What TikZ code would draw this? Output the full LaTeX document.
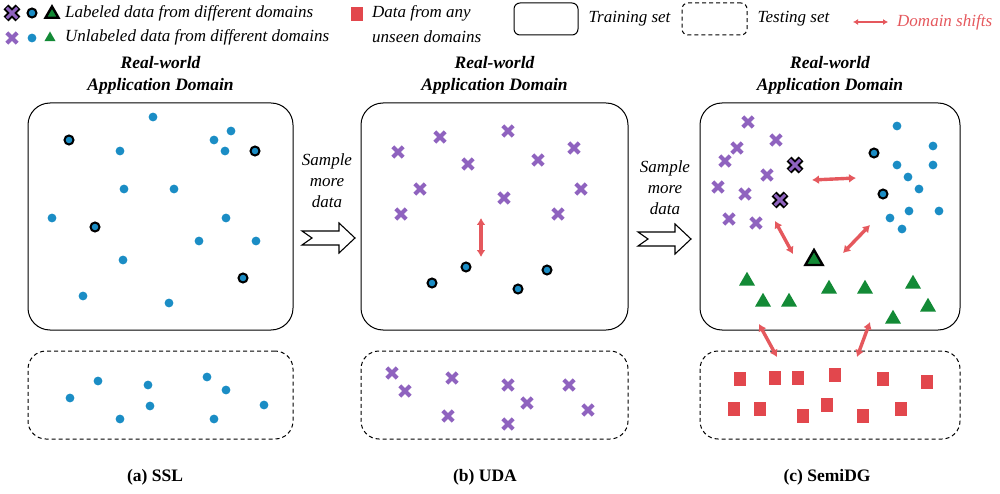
\documentclass[tikz,border=0pt]{standalone}
\usepackage{fontspec}
\setmainfont{Liberation Serif}
\usetikzlibrary{positioning,arrows.meta,shapes.geometric}
\definecolor{dotblue}{HTML}{1B8DC5}
\definecolor{crosspurple}{HTML}{8F63BF}
\definecolor{trigreen}{HTML}{138A36}
\definecolor{sqred}{HTML}{E2474D}
\definecolor{shiftred}{HTML}{E5585D}

\tikzset{
udot/.pic={\fill[dotblue] (0,0) circle (4.4pt);},
ldot/.pic={\draw[line width=2pt, fill=dotblue] (0,0) circle (4.5pt);},
ucross/.pic={\draw[crosspurple, line width=4.2pt] (-5.2,-5.2)--(5.2,5.2) (-5.2,5.2)--(5.2,-5.2);},
lcross/.pic={\draw[black, line width=6.8pt] (-6,-6)--(6,6) (-6,6)--(6,-6);
  \draw[crosspurple, line width=3pt] (-5.2,-5.2)--(5.2,5.2) (-5.2,5.2)--(5.2,-5.2);},
utri/.pic={\node[regular polygon, regular polygon sides=3, fill=trigreen, inner sep=0pt, minimum size=#1] {};},
ltri/.pic={\node[regular polygon, regular polygon sides=3, fill=trigreen, draw=black, line width=2.4pt, inner sep=0pt, minimum size=#1] {};},
usq/.pic={\fill[sqred] (-6.3,-6.8) rectangle (6.3,6.8);},
fatarrow/.pic={\draw[line width=1.1pt, fill=white] (0,-7) -- (37,-7) -- (37,-15) -- (53,0) -- (37,15) -- (37,7) -- (0,7) -- (10,0) -- cycle;}
}

\begin{document}
\begin{tikzpicture}[
x=1pt, y=-1pt,
trainbox/.style={draw, line width=1pt, rounded corners=22pt},
testbox/.style={draw, dashed, dash pattern=on 4pt off 3pt, line width=1pt, rounded corners=18pt},
title/.style={font=\fontsize{17.5}{22}\selectfont\bfseries\itshape, align=center},
caption/.style={font=\fontsize{17.5}{21}\selectfont\bfseries},
legtext/.style={font=\fontsize{17}{21}\selectfont\itshape, inner sep=2pt},
sampletext/.style={font=\fontsize{17}{21}\selectfont\itshape, align=center},
shiftarrow/.style={shiftred, line width=3.4pt, {Latex[length=7pt,width=9pt]}-{Latex[length=7pt,width=9pt]}}
]
\useasboundingbox (0,0) rectangle (1000,494);

% legend
\pic at (12,13) {lcross};
\pic at (32,13) {ldot};
\pic at (52,14) {ltri=15pt};
\node[legtext, anchor=west] (lablab) at (63,13) {Labeled data from different domains};
\pic at (12,38) {ucross};
\pic at (32,38) {udot};
\pic at (50,38) {utri=13pt};
\node[legtext, anchor=west] (unlablab) at (63,37) {Unlabeled data from different domains};
\pic at (357,14) {usq};
\node[legtext, anchor=west] (anylab) at (370,13) {Data from any};
\node[legtext, anchor=west] (unseenlab) at (370,37) {unseen domains};
\node[trainbox, minimum width=64pt, minimum height=32pt, rounded corners=6pt] (legtrain) at (546,19) {};
\node[legtext, right=8pt of legtrain] (trainlab) {Training set};
\node[testbox, minimum width=65pt, minimum height=32pt, rounded corners=6pt] (legtest) at (714.5,19) {};
\node[legtext, right=8pt of legtest] (testlab) {Testing set};
\coordinate (lega) at (853,22);
\coordinate (legb) at (888,22);
\draw[shiftarrow, line width=2pt, {Latex[length=5pt,width=6pt]}-{Latex[length=5pt,width=6pt]}] (lega) -- (legb);
\node[legtext, text=shiftred, anchor=west] (shiftlab) at (895,22) {Domain shifts};

% domains
\node[trainbox, minimum width=265pt, minimum height=227pt] (ssl) at (160.5,216.5) {};
\node[trainbox, minimum width=267pt, minimum height=227pt, right=67pt of ssl] (uda) {};
\node[trainbox, minimum width=260pt, minimum height=227pt, right=71pt of uda] (semi) {};
\node[testbox, minimum width=265pt, minimum height=88pt, below=20pt of ssl] (ssltest) {};
\node[testbox, minimum width=267pt, minimum height=88pt, below=20pt of uda] (udatest) {};
\node[testbox, minimum width=260pt, minimum height=88pt, below=20pt of semi] (semitest) {};

\node[title, above=5pt of ssl] (ssltitle) {Real-world\\Application Domain};
\node[title, above=5pt of uda] (udatitle) {Real-world\\Application Domain};
\node[title, above=5pt of semi] (semititle) {Real-world\\Application Domain};

\node[caption] (sslcap) at (155,477) {(a) SSL};
\node[caption] (udacap) at (485,477) {(b) UDA};
\node[caption] (semicap) at (827,477) {(c) SemiDG};

\node[sampletext] (sample1) at (327,181) {Sample\\more\\data};
\node[sampletext] (sample2) at (665,188) {Sample\\more\\data};
\pic at (302,238) {fatarrow};
\pic at (638,239) {fatarrow};

% (a) SSL
\foreach \p in {(153,117),(120,151),(214,140),(231,131),(225,151),(124,189),(174,189),(52,218),(226,218),(199,241),(256,241),(123,260),(83,296),(169,303)}
  \pic at \p {udot};
\foreach \p in {(69,140),(255,151),(95,227),(243,278)}
  \pic at \p {ldot};
\foreach \p in {(70,398),(98,381),(120,419),(148,385),(150,406),(207,377),(226,390),(214,419),(264,405)}
  \pic at \p {udot};

% (b) UDA
\foreach \p in {(398,152),(440,137),(508,131),(468,164),(538,160),(574,148),(420,189),(504,198),(581,189),(401,214),(558,214)}
  \pic at \p {ucross};
\foreach \p in {(432,283),(466,267),(518,289),(547,270)}
  \pic at \p {ldot};
\foreach \p in {(392,373),(405,391),(452,378),(448,416),(508,385),(527,403),(508,424),(569,385),(588,410)}
  \pic at \p {ucross};
\coordinate (udatop) at (481,218);
\coordinate (udabot) at (481,257);
\draw[shiftarrow] (udatop) -- (udabot);

% (c) SemiDG
\foreach \p in {(748,122),(776,140),(737,148),(725,161),(767,175),(718,187),(745,194),(729,219),(756,223)}
  \pic at \p {ucross};
\foreach \p in {(795,165),(780,200)}
  \pic at \p {lcross};
\foreach \p in {(897,126),(933,146),(897,165),(933,165),(908,177),(919,189),(909,211),(939,211),(890,218),(902,229)}
  \pic at \p {udot};
\foreach \p in {(874,153),(883,194)}
  \pic at \p {ldot};
\pic at (814,260) {ltri=20pt};
\foreach \p in {(747,281),(763,302),(789,302),(829,289),(865,289),(913,284),(928,307),(893,319)}
  \pic at \p {utri=18.5pt};
\foreach \p in {(740,379),(775,378),(798,378),(835,375),(883,379),(927,382),(734,409),(760,409),(803,416),(827,405),(863,416),(901,409)}
  \pic at \p {usq};

\coordinate (xa) at (812,180);
\coordinate (xb) at (856,178);
\coordinate (xc) at (775,221);
\coordinate (xd) at (793,254);
\coordinate (xe) at (870,225);
\coordinate (xf) at (843,253);
\coordinate (xg) at (759,324);
\coordinate (xh) at (777,357);
\coordinate (xi) at (870,322);
\coordinate (xj) at (857,357);
\draw[shiftarrow] (xa) -- (xb);
\draw[shiftarrow] (xc) -- (xd);
\draw[shiftarrow] (xe) -- (xf);
\draw[shiftarrow] (xg) -- (xh);
\draw[shiftarrow] (xi) -- (xj);
\end{tikzpicture}
\end{document}
